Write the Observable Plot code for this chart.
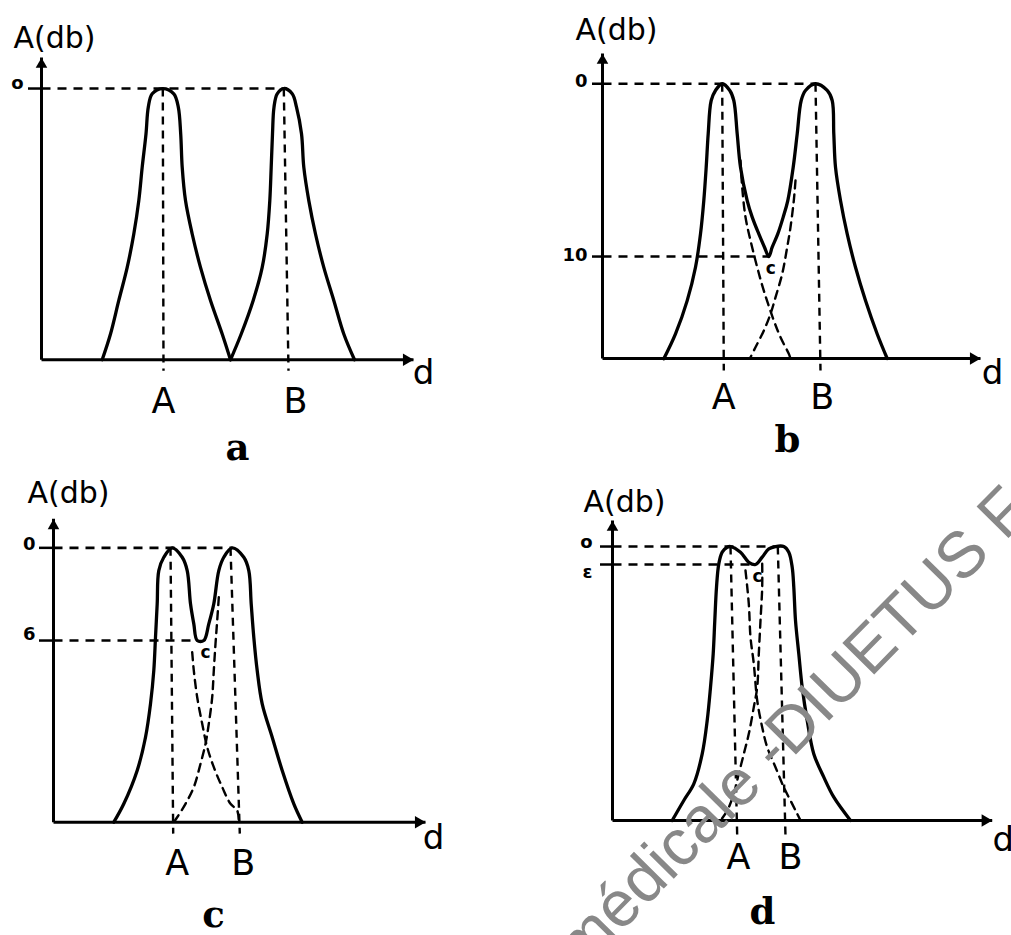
<!DOCTYPE html>
<html>
<head>
<meta charset="utf-8">
<script src="https://cdn.jsdelivr.net/npm/d3@7"></script>
<script src="https://cdn.jsdelivr.net/npm/@observablehq/plot@0.6"></script>
<style>
  html, body { margin: 0; padding: 0; background: #fff; overflow: hidden; }
  #page { position: relative; width: 1011px; height: 935px; overflow: hidden; background: #fff; }
  #page svg { position: absolute; }
</style>
</head>
<body>
<div id="page"></div>
<script>
// ---------------- DATA ----------------
// x = distance d (arbitrary units), y = attenuation A in dB (0 at top)

// Panel a : two separated echoes
const aCurveA = [[6.07,16],[6.9,14.48],[7.73,12.5],[8.57,10.55],[9.23,8.58],[9.73,6.61],[10.07,4.64],[10.45,2.67],[10.68,1.1],[11.07,0.31],[12.13,0],[13.23,0.31],[13.68,1.1],[13.92,2.67],[14.07,4.64],[14.4,6.61],[15.07,8.58],[15.9,10.55],[16.9,12.5],[18.07,14.48],[18.9,16]];
const aCurveB = [[18.9,16],[19.97,14.48],[21.17,12.5],[22.07,10.55],[22.57,8.58],[22.83,6.61],[22.97,4.64],[23.1,2.67],[23.25,1.1],[23.57,0.31],[24.23,0],[25.07,0.31],[25.5,1.1],[26.0,2.67],[26.23,4.64],[26.73,6.61],[27.4,8.58],[28.23,10.55],[29.23,12.5],[30.23,14.48],[31.3,16]];
const aPeakTop = [12.13, 24.23];
const aPeakFoot = [12.2, 24.7];
const aLevels = [0];
const aLevelLabels = ["o"];
const aLevelLabelY = [-0.3];
const aLevelEnd = [24.23];
const aTicks = [12.2, 25.4];
const aTickLabels = ["A", "B"];

// Panel b : dip of 10 dB
const bEnvelope = [[6.13,15.92],[7.3,14.48],[8.47,12.55],[9.3,10.62],[9.8,8.69],[10.13,6.76],[10.37,4.83],[10.57,2.9],[10.87,0.97],[11.3,0.39],[11.97,0],[12.73,0.39],[13.13,0.97],[13.47,2.9],[13.8,4.83],[14.47,6.76],[14.97,7.72],[15.63,8.69],[16.2,9.46],[16.63,10],[16.97,9.46],[17.53,8.69],[18.07,7.72],[18.53,6.76],[19.07,4.83],[19.47,2.9],[19.87,0.97],[20.3,0.39],[21.3,0],[22.47,0.39],[22.97,0.97],[23.13,2.9],[23.3,4.83],[23.8,6.76],[24.47,8.69],[25.3,10.62],[26.3,12.55],[27.47,14.48],[28.47,15.9]];
const bTailA = [[13.8,4.44],[13.97,5.99],[14.3,7.72],[14.8,9.07],[15.47,10.62],[16.13,11.97],[17.13,13.7],[17.8,14.67],[18.63,15.63],[18.8,15.9]];
const bTailB = [[19.3,5.6],[19.13,6.76],[18.8,8.3],[18.47,9.46],[17.97,11.0],[17.3,12.36],[16.8,13.32],[16.13,14.29],[15.3,15.25],[14.8,15.83]];
const bPeakTop = [11.97, 21.3];
const bPeakFoot = [12.13, 21.8];
const bLevels = [0, 10];
const bLevelLabels = ["0", "10"];
const bLevelLabelY = [-0.12, 9.94];
const bLevelEnd = [21.3, 16.63];
const bTicks = [12.13, 21.97];
const bTickLabels = ["A", "B"];
const bDip = [16.63, 10];

// Panel c : dip of 6 dB
const cEnvelope = [[6.03,17.76],[7.03,16.57],[8.37,14.41],[9.2,12.26],[9.7,10.1],[10.03,7.94],[10.2,5.79],[10.37,3.62],[10.53,1.47],[11.03,0.61],[11.87,0],[12.87,0.61],[13.37,1.47],[13.7,3.62],[14.03,4.92],[14.37,6.0],[15.03,6.0],[15.53,4.92],[16.03,3.62],[16.53,1.47],[17.03,0.61],[17.87,0],[19.03,0.61],[19.53,1.47],[19.77,3.62],[20.03,5.79],[20.37,7.94],[20.87,10.1],[21.87,12.26],[22.87,14.41],[24.03,16.57],[24.87,17.76]];
const cTailA = [[13.87,6.76],[14.03,7.94],[14.37,9.67],[14.87,11.39],[15.37,12.9],[16.03,14.2],[16.87,15.49],[17.7,16.57],[18.37,17.0],[18.53,17.76]];
const cTailB = [[16.53,3.2],[16.37,4.71],[16.2,6.21],[16.03,7.94],[15.87,9.67],[15.53,11.39],[15.2,12.69],[14.7,13.98],[14.03,15.49],[13.2,16.57],[12.37,17.44],[12.03,17.76]];
const cPeakTop = [11.7, 17.7];
const cPeakFoot = [11.97, 18.63];
const cLevels = [0, 6];
const cLevelLabels = ["0", "6"];
const cLevelLabelY = [-0.21, 5.61];
const cLevelEnd = [17.87, 14.37];
const cTicks = [12.37, 18.97];
const cTickLabels = ["A", "B"];
const cDip = [14.7, 6];

// Panel d : dip of epsilon
const dEnvelope = [[5.97,16],[7.13,14.83],[8.13,13.86],[8.97,12.11],[9.47,10.16],[9.8,8.22],[10.07,6.27],[10.23,4.32],[10.4,2.38],[10.63,1.01],[10.97,0.33],[11.47,0.04],[11.8,0],[12.8,0.33],[13.63,0.92],[14.3,1.05],[14.97,0.62],[15.63,0.14],[16.3,0],[17.13,0],[17.63,0.33],[17.97,1.21],[18.13,2.38],[18.3,4.32],[18.63,6.27],[18.97,8.22],[19.47,10.16],[20.13,12.11],[21.13,13.47],[22.13,14.64],[23.8,16]];
const dTailA = [[13.3,1.4],[13.63,3.35],[13.8,5.3],[14.13,6.85],[14.47,8.99],[14.97,10.55],[15.47,11.72],[16.3,12.89],[17.13,14.06],[17.97,15.03],[18.47,15.61],[18.8,16]];
const dTailB = [[14.97,1.01],[14.97,2.38],[14.8,4.32],[14.63,6.27],[14.47,8.22],[14.13,9.38],[13.63,10.94],[13.13,12.11],[12.63,13.27],[12.13,14.44],[11.47,15.42],[10.8,16]];
const dPeakTop = [11.8, 16.53];
const dPeakFoot = [12.47, 17.3];
const dLevels = [0, 1.05];
const dLevelLabels = ["o", "ε"];
const dLevelLabelY = [-0.23, 1.52];
const dLevelEnd = [16.5, 14.3];
const dTicks = [12.6, 17.8];
const dTickLabels = ["A", "B"];
const dDip = [14.3, 1.05];

const captions = ["a", "b", "c", "d"];
const watermark = "médicale -DIUETUS F";

// ---------------- LAYOUT (positions / styles) ----------------
const panels = [
  { caption: captions[0], solid: [aCurveA, aCurveB], dashed: [], peakTop: aPeakTop, peakFoot: aPeakFoot,
    levels: aLevels, levelLabels: aLevelLabels, levelLabelY: aLevelLabelY, levelEnd: aLevelEnd, ticks: aTicks, tickLabels: aTickLabels, dip: null,
    left: 0, top: 0, width: 520, height: 468, ml: 41, mr: 107, mt: 57, mb: 108.7,
    xMax: 37.2, yTop: -1.83, yBase: 16, footY: 16.65,
    tySize: 13, tyPad: 5, txPad: 28, dbDx: -28, dbDy: -19, dDx: 10, dDy: 13, capX: 19.6, capDy: 88, cDx: 0, cDy: 0 },
  { caption: captions[1], solid: [bEnvelope], dashed: [bTailA, bTailB], peakTop: bPeakTop, peakFoot: bPeakFoot,
    levels: bLevels, levelLabels: bLevelLabels, levelLabelY: bLevelLabelY, levelEnd: bLevelEnd, ticks: bTicks, tickLabels: bTickLabels, dip: bDip,
    left: 520, top: 0, width: 491, height: 468, ml: 82, mr: 31, mt: 53, mb: 110,
    xMax: 37.8, yTop: -1.75, yBase: 15.9, footY: 16.6,
    tySize: 10, tyPad: 5, txPad: 26, dbDx: -27, dbDy: -23, dDx: 12, dDy: 15, capX: 18.5, capDy: 82, cDx: 2, cDy: 12 },
  { caption: captions[2], solid: [cEnvelope], dashed: [cTailA, cTailB], peakTop: cPeakTop, peakFoot: cPeakFoot,
    levels: cLevels, levelLabels: cLevelLabels, levelLabelY: cLevelLabelY, levelEnd: cLevelEnd, ticks: cTicks, tickLabels: cTickLabels, dip: cDip,
    left: 0, top: 468, width: 520, height: 467, ml: 53, mr: 95, mt: 50.3, mb: 113.3,
    xMax: 37.2, yTop: -1.88, yBase: 17.76, footY: 18.5,
    tySize: 14, tyPad: 4, txPad: 28, dbDx: -26, dbDy: -25, dDx: 8, dDy: 16, capX: 16.0, capDy: 93, cDx: 5, cDy: 12 },
  { caption: captions[3], solid: [dEnvelope], dashed: [dTailA, dTailB], peakTop: dPeakTop, peakFoot: dPeakFoot,
    levels: dLevels, levelLabels: dLevelLabels, levelLabelY: dLevelLabelY, levelEnd: dLevelEnd, ticks: dTicks, tickLabels: dTickLabels, dip: dDip,
    left: 520, top: 468, width: 491, height: 467, ml: 92, mr: 19.3, mt: 52, mb: 115,
    xMax: 37.97, yTop: -1.52, yBase: 16, footY: 16.9,
    tySize: 12, tyPad: 8, txPad: 24, dbDx: -29, dbDy: -18, dDx: 11, dDy: 20, capX: 15.0, capDy: 92, cDx: 2, cDy: 12 }
];

const DASH = "9,7";
const FONT = "DejaVu Sans, Liberation Sans, sans-serif";

function buildPanel(p) {
  const levelRows = p.levels.map((v, i) => ({ v, label: p.levelLabels[i], ly: p.levelLabelY[i], end: p.levelEnd[i] }));
  const guideRows = p.peakTop.map((t, i) => ({ top: t, foot: p.peakFoot[i] }));
  const axisRows = [
    { x1: 0, y1: p.yBase, x2: p.xMax, y2: p.yBase, rot: 90, dx: -7, dy: 0 },
    { x1: 0, y1: p.yBase, x2: 0, y2: p.yTop, rot: 0, dx: 0, dy: 7 }
  ];
  const marks = [
    // dashed reference levels
    Plot.link(levelRows, { x1: () => 0, y1: "v", x2: "end", y2: "v", stroke: "#000", strokeWidth: 2.6, strokeDasharray: DASH }),
    // dashed vertical guides through the peaks A and B
    Plot.link(guideRows, { x1: "top", y1: () => 0, x2: "foot", y2: () => p.footY, stroke: "#000", strokeWidth: 2.4, strokeDasharray: "8,6" }),
    // dashed individual tails
    ...p.dashed.map(t => Plot.line(t, { x: d => d[0], y: d => d[1], curve: "catmull-rom", stroke: "#000", strokeWidth: 2.4, strokeDasharray: "8,6" })),
    // solid curves
    ...p.solid.map(c => Plot.line(c, { x: d => d[0], y: d => d[1], curve: "catmull-rom", stroke: "#000", strokeWidth: 3.3, strokeLinejoin: "round" })),
    // axes lines
    Plot.link(axisRows, { x1: "x1", y1: "y1", x2: "x2", y2: "y2", stroke: "#000", strokeWidth: 3 }),
    // filled arrowheads
    Plot.dot([axisRows[0]], { x: "x2", y: "y2", symbol: "triangle", r: 4.6, fill: "#000", stroke: null, rotate: 90, dx: -7 }),
    Plot.dot([axisRows[1]], { x: "x2", y: "y2", symbol: "triangle", r: 4.3, fill: "#000", stroke: null, rotate: 0, dy: 7 }),
    // y ticks
    Plot.axisY(p.levels, {
      tickSize: p.tySize, tickPadding: 0, strokeWidth: 2.5,
      tickFormat: () => "", label: null
    }),
    // y tick labels (positions)
    Plot.text(levelRows, { x: () => 0, y: "ly", text: "label", textAnchor: "end", dx: -(p.tySize + p.tyPad), fontSize: 18, fontWeight: "bold" }),
    Plot.axisX(p.ticks, {
      tickSize: 0, tickPadding: p.txPad,
      tickFormat: v => p.tickLabels[p.ticks.indexOf(v)],
      fontSize: 35, label: null
    }),
    // axis titles
    Plot.text(["A(db)"], { x: () => 0, y: () => p.yTop, text: d => d, textAnchor: "start", dx: p.dbDx, dy: p.dbDy, fontSize: 30 }),
    Plot.text(["d"], { x: () => p.xMax, y: () => p.yBase, text: d => d, dx: p.dDx, dy: p.dDy, fontSize: 34 }),
    // panel caption
    Plot.text([p.caption], { x: () => p.capX, y: () => p.yBase, text: d => d, dy: p.capDy, fontSize: 37, fontWeight: "bold", fontFamily: "DejaVu Serif, Liberation Serif, serif" })
  ];
  if (p.dip) {
    marks.push(Plot.text(["c"], { x: () => p.dip[0], y: () => p.dip[1], text: d => d, dx: p.cDx, dy: p.cDy, fontSize: 17, fontWeight: "bold" }));
  }
  const svg = Plot.plot({
    width: p.width, height: p.height,
    marginLeft: p.ml, marginRight: p.mr, marginTop: p.mt, marginBottom: p.mb,
    x: { domain: [0, p.xMax] },
    y: { domain: [p.yBase, p.yTop] },
    style: { fontFamily: FONT, background: "transparent", color: "#000", overflow: "visible" },
    marks
  });
  svg.style.position = "absolute";
  svg.style.left = p.left + "px";
  svg.style.top = p.top + "px";
  svg.style.maxWidth = "none";
  return svg;
}

const page = document.getElementById("page");
panels.forEach(p => page.appendChild(buildPanel(p)));

// watermark overlay
const wm = d3.select(page).append("svg")
  .attr("width", 1011).attr("height", 935)
  .style("left", "0px").style("top", "0px").style("pointer-events", "none");
wm.append("text")
  .attr("transform", "translate(582,972) rotate(-45.5)")
  .attr("font-family", "Liberation Sans, Arial, sans-serif")
  .attr("font-size", 65)
  .attr("fill", "#888")
  .text(watermark);
</script>
</body>
</html>
